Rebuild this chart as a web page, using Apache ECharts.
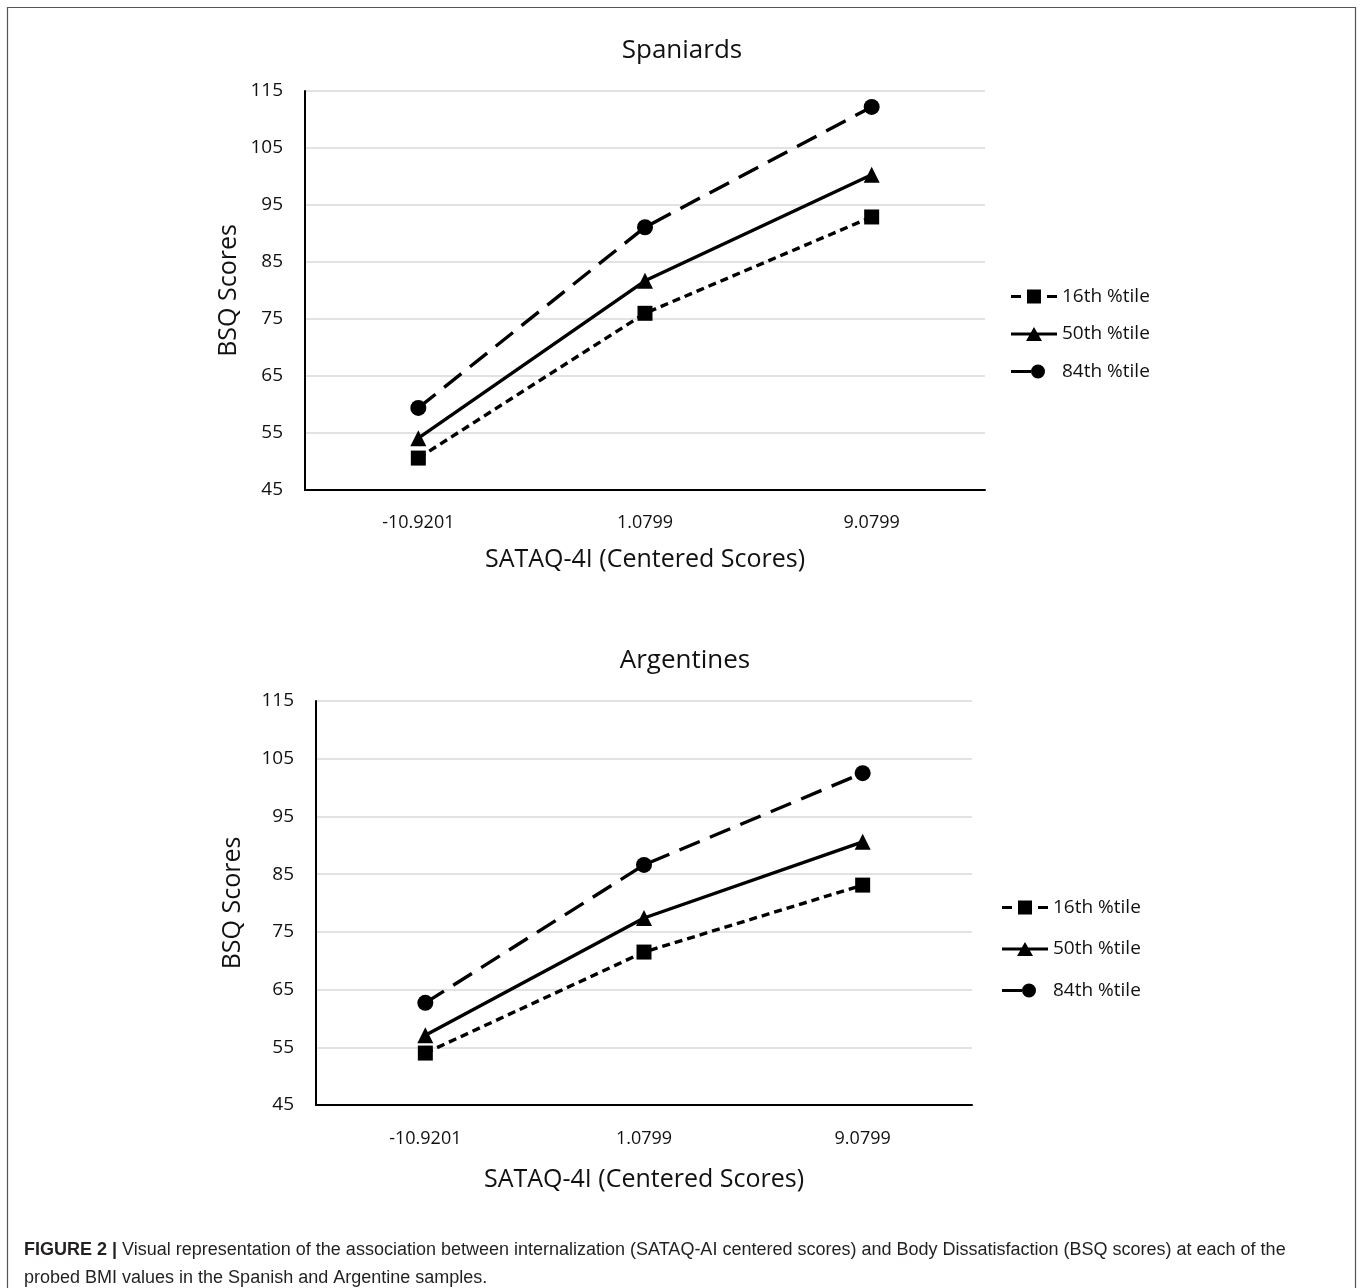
<!DOCTYPE html>
<html>
<head>
<meta charset="utf-8">
<script src="https://cdn.jsdelivr.net/npm/echarts@6/dist/echarts.min.js"></script>
<style>
html,body{margin:0;padding:0;background:#fff;}
#chart{width:1360px;height:1288px;}
</style>
</head>
<body>
<div id="chart"></div>
<script>
// ---- data ----
const categories = ['-10.9201', '1.0799', '9.0799'];
const seriesNames = ['16th %tile', '50th %tile', '84th %tile'];
const yTicks = [45, 55, 65, 75, 85, 95, 105, 115];

const spain16 = [50.6, 76.0, 92.9];
const spain50 = [54.1, 81.7, 100.3];
const spain84 = [59.4, 91.1, 112.2];

const arg16 = [54.0, 71.5, 83.1];
const arg50 = [57.1, 77.4, 90.6];
const arg84 = [62.7, 86.6, 102.5];

const chartTitles = ['Spaniards', 'Argentines'];
const xName = 'SATAQ-4I (Centered Scores)';
const yName = 'BSQ Scores';

// ---- styles ----
const FONT = 'Open Sans';
const styleFor = [
  {symbol: 'rect', size: 15, line: {type: [8, 5], width: 3.4}},
  {symbol: 'triangle', size: 16, line: {type: 'solid', width: 3.4}},
  {symbol: 'circle', size: 16, line: {type: [22, 11], width: 3.4}}
];
const legendIcons = [
  'path://M0,5.5L10,5.5L10,8.5L0,8.5Z M16,0L30,0L30,14L16,14Z M36,5.5L46,5.5L46,8.5L36,8.5Z',
  'path://M0,5.5L46,5.5L46,8.5L0,8.5Z M15,14L23,0L31,14Z',
  'path://M0,5.5L20,5.5L20,8.5L0,8.5Z M20,7A7,7 0 1,1 34,7A7,7 0 1,1 20,7Z M46,7L46,7'
];

function mkSeries(name, data, idx, axisIdx) {
  const s = styleFor[idx];
  return {
    name: name,
    type: 'line',
    xAxisIndex: axisIdx,
    yAxisIndex: axisIdx,
    data: data,
    symbol: s.symbol,
    symbolSize: s.size,
    showAllSymbol: true,
    itemStyle: {color: '#000'},
    lineStyle: {color: '#000', width: s.line.width, type: s.line.type},
    animation: false,
    z: 3 + idx
  };
}

const grids = [
  {left: 305, top: 91, width: 680, height: 399},
  {left: 316, top: 701, width: 656, height: 404}
];

function mkX(i, nameGap, margin) {
  return {
    type: 'category', gridIndex: i, data: categories,
    boundaryGap: true,
    axisLine: {lineStyle: {color: '#000', width: 2}},
    axisTick: {show: false},
    axisLabel: {color: '#111', fontFamily: FONT, fontSize: 18, margin: margin},
    name: xName, nameLocation: 'middle', nameGap: nameGap,
    nameTextStyle: {color: '#111', fontFamily: FONT, fontSize: 25}
  };
}
function mkY(i, nameGap) {
  return {
    type: 'value', gridIndex: i,
    min: yTicks[0], max: yTicks[yTicks.length - 1], interval: 10,
    axisLine: {show: true, lineStyle: {color: '#000', width: 2}},
    axisTick: {show: false},
    splitLine: {lineStyle: {color: '#d9d9d9', width: 1.5}},
    axisLabel: {color: '#111', fontFamily: FONT, fontSize: 19, margin: 22},
    name: yName, nameLocation: 'middle', nameGap: nameGap,
    nameTextStyle: {color: '#111', fontFamily: FONT, fontSize: 25}
  };
}

function mkLegend(top, left, gap) {
  return {
    orient: 'vertical', left: left, top: top, padding: 0,
    itemWidth: 46, itemHeight: 14, itemGap: gap,
    itemStyle: {color: '#000', borderWidth: 0},
    textStyle: {color: '#111', fontFamily: FONT, fontSize: 19},
    data: seriesNames.map((n, i) => ({name: n, icon: legendIcons[i]}))
  };
}

const option = {
  backgroundColor: '#fff',
  animation: false,
  title: [
    {text: chartTitles[0], left: 677, top: 33, textAlign: 'center',
     textStyle: {color: '#111', fontFamily: FONT, fontSize: 26, fontWeight: 'normal'}},
    {text: chartTitles[1], left: 680, top: 643, textAlign: 'center',
     textStyle: {color: '#111', fontFamily: FONT, fontSize: 26, fontWeight: 'normal'}}
  ],
  grid: grids,
  xAxis: [mkX(0, 57, 24), mkX(1, 62, 25)],
  yAxis: [mkY(0, 64), mkY(1, 71)],
  legend: [
    mkLegend(287, 1011, 18.5),
    mkLegend(898, 1002, 22.5)
  ],
  series: [
    mkSeries(seriesNames[0], spain16, 0, 0),
    mkSeries(seriesNames[1], spain50, 1, 0),
    mkSeries(seriesNames[2], spain84, 2, 0),
    mkSeries(seriesNames[0], arg16, 0, 1),
    mkSeries(seriesNames[1], arg50, 1, 1),
    mkSeries(seriesNames[2], arg84, 2, 1)
  ],
  graphic: [
    {type: 'rect', shape: {x: 7.5, y: 7.5, width: 1348, height: 1300},
     style: {fill: 'none', stroke: '#555', lineWidth: 1.2}, silent: true},
    {type: 'text', left: 24, top: 1236,
     style: {
       text: '{b|FIGURE 2 |} Visual representation of the association between internalization (SATAQ-AI centered scores) and Body Dissatisfaction (BSQ scores) at each of the\nprobed BMI values in the Spanish and Argentine samples.',
       fontFamily: 'Liberation Sans', fontSize: 18, fill: '#231f20', lineHeight: 28,
       rich: {b: {fontFamily: 'Liberation Sans', fontSize: 18, fontWeight: 'bold', fill: '#231f20', lineHeight: 28}}
     }}
  ]
};

const chart = echarts.init(document.getElementById('chart'), null, {renderer: 'canvas'});
chart.setOption(option);
</script>
</body>
</html>
